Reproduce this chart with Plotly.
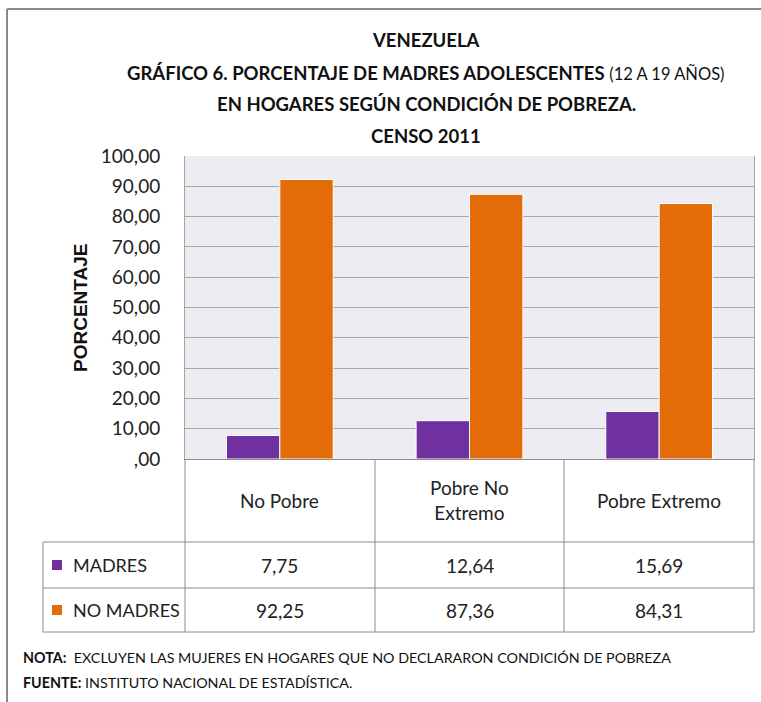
import plotly.graph_objects as go

categories = ["No Pobre", "Pobre No Extremo", "Pobre Extremo"]
category_labels = ["No Pobre", "Pobre No<br>Extremo", "Pobre Extremo"]
series_names = ["MADRES", "NO MADRES"]
madres = [7.75, 12.64, 15.69]
no_madres = [92.25, 87.36, 84.31]
tick_vals = [0, 10, 20, 30, 40, 50, 60, 70, 80, 90, 100]
tick_text = [",00", "10,00", "20,00", "30,00", "40,00", "50,00", "60,00",
             "70,00", "80,00", "90,00", "100,00"]

W, H = 761, 702
L, R, T, B = 185, 754, 156, 459
PURPLE = "#7030A0"
ORANGE = "#E36C09"
FONT = "Lato, Roboto, sans-serif"
GRID = "#A6A6A6"
LINE = "#8C8C8C"


def px(x):
    return (x - L) / (R - L)


def py(y):
    return (B - y) / (B - T)


def fmt(v):
    return f"{v:.2f}".replace(".", ",")


fig = go.Figure()
fig.add_trace(go.Bar(x=categories, y=madres, name=series_names[0],
                     marker=dict(color=PURPLE, line=dict(color="white", width=1))))
fig.add_trace(go.Bar(x=categories, y=no_madres, name=series_names[1],
                     marker=dict(color=ORANGE, line=dict(color="white", width=1))))

shapes = []
# outer frame (left and top)
shapes.append(dict(type="line", xref="paper", yref="paper", x0=px(7), x1=px(7),
                   y0=py(9), y1=py(702), line=dict(color="#8A8A8A", width=2)))
shapes.append(dict(type="line", xref="paper", yref="paper", x0=px(7), x1=px(761),
                   y0=py(9), y1=py(9), line=dict(color="#8A8A8A", width=2)))
# table lines
for xx in [L, 375, 564, R]:
    shapes.append(dict(type="line", xref="paper", yref="paper", x0=px(xx), x1=px(xx),
                       y0=py(B), y1=py(632), line=dict(color=LINE, width=1)))
shapes.append(dict(type="line", xref="paper", yref="paper", x0=px(43), x1=px(43),
                   y0=py(542), y1=py(632), line=dict(color=LINE, width=1)))
for yy in [542, 588, 632]:
    shapes.append(dict(type="line", xref="paper", yref="paper", x0=px(43), x1=px(R),
                       y0=py(yy), y1=py(yy), line=dict(color=LINE, width=1)))
# legend keys
for yc, col in [(565, PURPLE), (610, ORANGE)]:
    shapes.append(dict(type="rect", xref="paper", yref="paper", x0=px(52), x1=px(62),
                       y0=py(yc - 5), y1=py(yc + 5), fillcolor=col, line=dict(width=0)))

ann = []
title_lines = [
    ("<b>VENEZUELA</b>", 40),
    ("<b>GRÁFICO 6. PORCENTAJE DE MADRES ADOLESCENTES</b> <span style='font-size:16.5px'>(12 A 19 AÑOS)</span>", 73),
    ("<b>EN HOGARES SEGÚN CONDICIÓN DE POBREZA.</b>", 104),
    ("<b>CENSO 2011</b>", 136),
]
for txt, yy in title_lines:
    ann.append(dict(text=txt, xref="paper", yref="paper", x=px(426), y=py(yy),
                    xanchor="center", yanchor="middle", showarrow=False,
                    font=dict(family=FONT, size=18.5, color="#111111")))

ann.append(dict(text="<b>PORCENTAJE</b>", xref="paper", yref="paper", x=px(80), y=py(308),
                textangle=-90, xanchor="center", yanchor="middle", showarrow=False,
                font=dict(family="Liberation Sans, Arial, sans-serif", size=19, color="#111111")))

for cat, lab in zip(categories, category_labels):
    ann.append(dict(text=lab, xref="x", yref="paper", x=cat, y=py(500),
                    xanchor="center", yanchor="middle", showarrow=False,
                    font=dict(family=FONT, size=19, color="#222222")))
for row_vals, yy in [(madres, 565), (no_madres, 610)]:
    for cat, v in zip(categories, row_vals):
        ann.append(dict(text=fmt(v), xref="x", yref="paper", x=cat, y=py(yy),
                        xanchor="center", yanchor="middle", showarrow=False,
                        font=dict(family=FONT, size=19, color="#222222")))
for name, yy in zip(series_names, [565, 610]):
    ann.append(dict(text=name, xref="paper", yref="paper", x=px(71), y=py(yy),
                    xanchor="left", yanchor="middle", showarrow=False,
                    font=dict(family=FONT, size=18, color="#222222")))

ann.append(dict(text="<b>NOTA:</b>  EXCLUYEN LAS MUJERES EN HOGARES QUE NO DECLARARON CONDICIÓN DE POBREZA",
                xref="paper", yref="paper", x=px(21), y=py(657), xanchor="left", yanchor="middle",
                showarrow=False, font=dict(family=FONT, size=14.3, color="#111111")))
ann.append(dict(text="<b>FUENTE:</b> INSTITUTO NACIONAL DE ESTADÍSTICA.",
                xref="paper", yref="paper", x=px(21), y=py(682), xanchor="left", yanchor="middle",
                showarrow=False, font=dict(family=FONT, size=14.3, color="#111111")))

fig.update_layout(
    width=W, height=H,
    margin=dict(l=L, r=W - R, t=T, b=H - B, pad=0),
    paper_bgcolor="white",
    plot_bgcolor="#EEECF3",
    barmode="group", bargap=0.437, bargroupgap=0,
    showlegend=False,
    shapes=shapes, annotations=ann,
    font=dict(family=FONT, color="#222222"),
)
fig.update_xaxes(showticklabels=False, showgrid=False, showline=True,
                 linecolor=LINE, linewidth=1, ticks="", zeroline=False)
fig.update_yaxes(range=[0, 100], tickvals=tick_vals, ticktext=tick_text,
                 showgrid=True, gridcolor=GRID, gridwidth=1, zeroline=False,
                 showline=True, linecolor=GRID, linewidth=1, mirror=True,
                 ticks="", ticklabelstandoff=20,
                 tickfont=dict(family=FONT, size=19, color="#222222"))

fig.write_html("out.html", config={"displayModeBar": False},
               post_script="document.body.style.margin='0';")
